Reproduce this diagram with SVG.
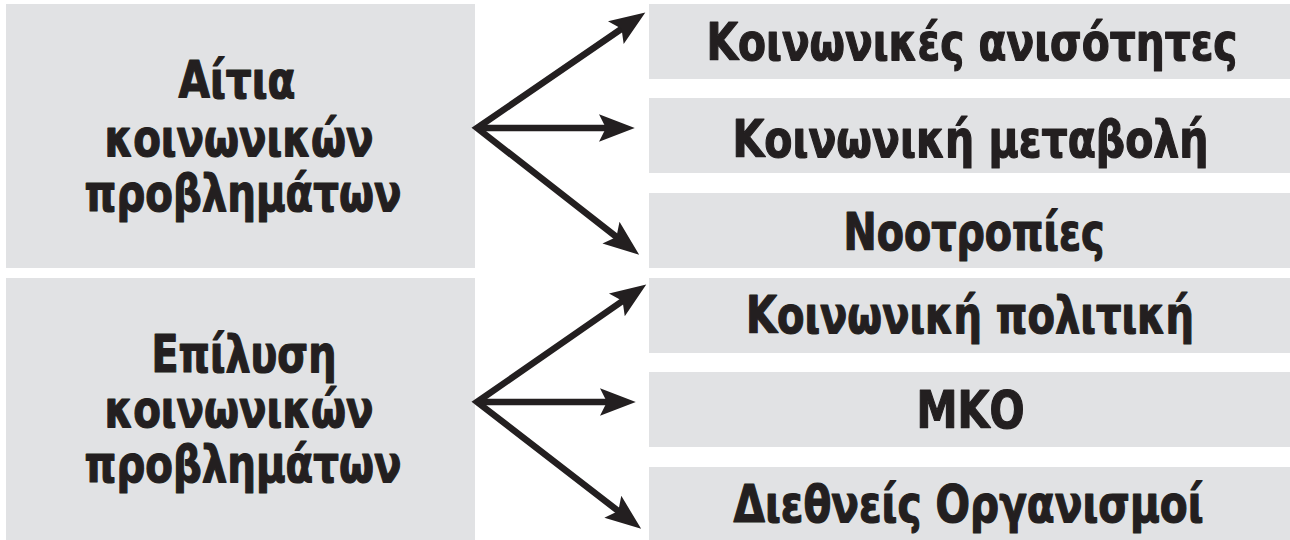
<svg xmlns="http://www.w3.org/2000/svg" width="1290" height="540" viewBox="0 0 1290 540">
  <style>
    .box { fill: #e1e2e4; }
    .lbl { font-family: "DejaVu Sans Condensed", "DejaVu Sans", Verdana, sans-serif; font-stretch: condensed; font-weight: bold; font-size: 51px; fill: #231f20; stroke: #231f20; stroke-width: 1.2; stroke-linejoin: round; text-anchor: middle; }
    .arr { fill: none; stroke: #231f20; stroke-width: 6.5; stroke-linejoin: miter; stroke-miterlimit: 10; }
  </style>
  <defs>
    <marker id="head" markerUnits="userSpaceOnUse" markerWidth="40" markerHeight="30" viewBox="-14 -13 34 26" refX="0" refY="0" orient="auto-start-reverse" overflow="visible">
      <path d="M18,0 L-13,-12 L-7,0 L-13,12 Z" fill="#231f20"/>
    </marker>
  </defs>
  <rect width="1290" height="540" fill="#ffffff"/>

  <g id="causes">
    <rect class="box" x="6" y="4" width="469" height="264"/>
    <text class="lbl" x="237" y="98" textLength="117" lengthAdjust="spacingAndGlyphs">Αίτια</text>
    <text class="lbl" x="239" y="156" textLength="269" lengthAdjust="spacingAndGlyphs">κοινωνικών</text>
    <text class="lbl" x="243" y="211" textLength="317" lengthAdjust="spacingAndGlyphs">προβλημάτων</text>
  </g>
  <g id="solutions">
    <rect class="box" x="6" y="278" width="469" height="262"/>
    <text class="lbl" x="244" y="372" textLength="185" lengthAdjust="spacingAndGlyphs">Επίλυση</text>
    <text class="lbl" x="239" y="427" textLength="269" lengthAdjust="spacingAndGlyphs">κοινωνικών</text>
    <text class="lbl" x="243" y="482" textLength="317" lengthAdjust="spacingAndGlyphs">προβλημάτων</text>
  </g>

  <g id="inequalities">
    <rect class="box" x="649" y="4" width="641" height="75"/>
    <text class="lbl" x="972" y="60" textLength="531" lengthAdjust="spacingAndGlyphs">Κοινωνικές ανισότητες</text>
  </g>
  <g id="social-change">
    <rect class="box" x="649" y="98" width="641" height="75"/>
    <text class="lbl" x="970.5" y="157" textLength="476" lengthAdjust="spacingAndGlyphs">Κοινωνική μεταβολή</text>
  </g>
  <g id="mentalities">
    <rect class="box" x="649" y="193" width="641" height="75"/>
    <text class="lbl" x="974" y="250" textLength="261" lengthAdjust="spacingAndGlyphs">Νοοτροπίες</text>
  </g>
  <g id="social-policy">
    <rect class="box" x="649" y="278" width="641" height="75"/>
    <text class="lbl" x="970" y="333" textLength="448" lengthAdjust="spacingAndGlyphs">Κοινωνική πολιτική</text>
  </g>
  <g id="ngo">
    <rect class="box" x="649" y="372" width="641" height="75"/>
    <text class="lbl" x="970.5" y="428" textLength="108" lengthAdjust="spacingAndGlyphs">ΜΚΟ</text>
  </g>
  <g id="international-orgs">
    <rect class="box" x="649" y="467" width="641" height="73"/>
    <text class="lbl" x="968.5" y="522" textLength="470" lengthAdjust="spacingAndGlyphs">Διεθνείς Οργανισμοί</text>
  </g>

  <g id="connectors">
    <path class="arr" d="M628.2,24.2 L477,128 L622.8,241.9" marker-start="url(#head)" marker-end="url(#head)"/>
    <path class="arr" d="M477,128 L614,128" marker-end="url(#head)"/>
    <path class="arr" d="M629.2,296.3 L477,402 L624.7,516" marker-start="url(#head)" marker-end="url(#head)"/>
    <path class="arr" d="M477,402 L615,402" marker-end="url(#head)"/>
  </g>
</svg>
